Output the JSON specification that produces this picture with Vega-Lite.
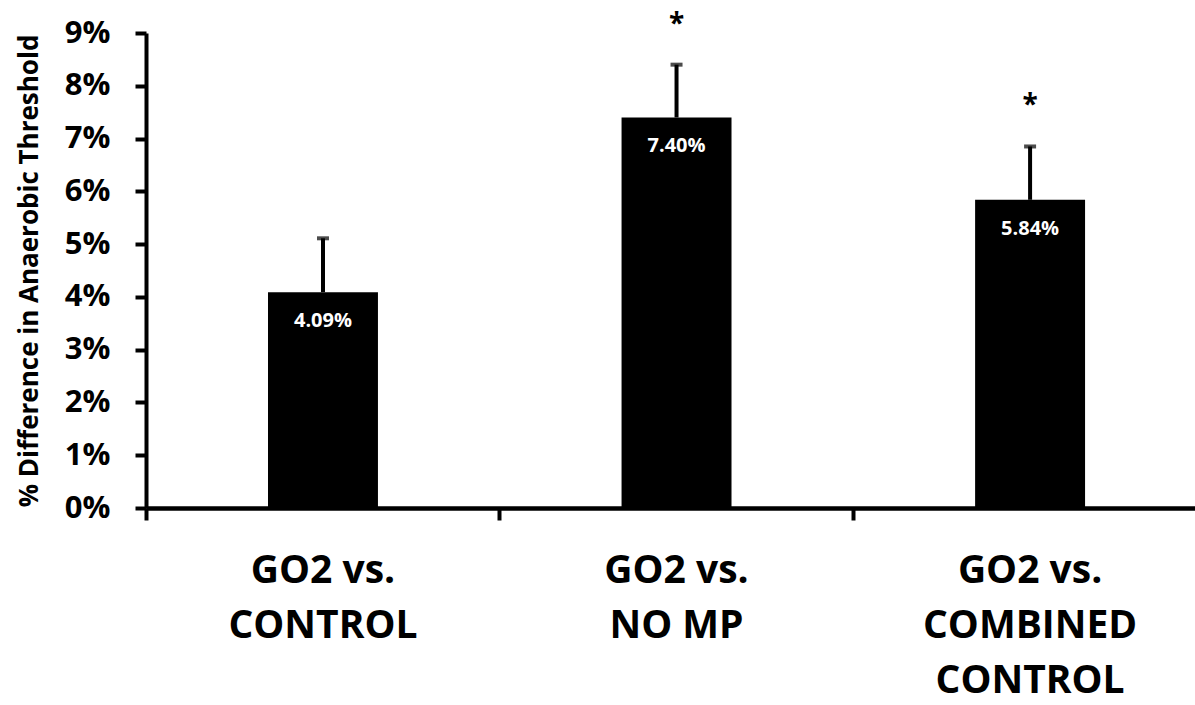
{
  "$schema": "https://vega.github.io/schema/vega-lite/v6.json",
  "width": 1049,
  "height": 475,
  "autosize": {"type": "none"},
  "padding": {"left": 146, "top": 33, "right": 0, "bottom": 197},
  "background": "white",
  "config": {"view": {"stroke": null}, "font": "Open Sans"},
  "data": {
    "values": [
      {"group": "GO2 vs.|CONTROL", "value": 0.0409, "hi": 0.0511, "sig": ""},
      {"group": "GO2 vs.|NO MP", "value": 0.074, "hi": 0.084, "sig": "*"},
      {"group": "GO2 vs.|COMBINED|CONTROL", "value": 0.0584, "hi": 0.0685, "sig": "*"}
    ]
  },
  "encoding": {
    "x": {
      "field": "group",
      "type": "nominal",
      "sort": null,
      "scale": {"paddingInner": 0.689, "paddingOuter": 0.328, "align": 0.526},
      "axis": {
        "title": null,
        "labelAngle": 0,
        "labelExpr": "split(datum.label, '|')",
        "labelFont": "Open Sans",
        "labelFontSize": 39,
        "labelFontWeight": "bold",
        "labelColor": "black",
        "labelLineHeight": 55,
        "labelPadding": 31,
        "labelLimit": 0,
        "labelOverlap": false,
        "labelBaseline": "top",
        "domainWidth": 4.5,
        "domainColor": "black",
        "tickSize": 12,
        "tickWidth": 4,
        "tickColor": "black",
        "bandPosition": -1.107
      }
    }
  },
  "layer": [
    {
      "mark": {"type": "bar", "color": "black"},
      "encoding": {
        "y": {
          "field": "value",
          "type": "quantitative",
          "scale": {"domain": [0, 0.09]},
          "axis": {
            "values": [0, 0.01, 0.02, 0.03, 0.04, 0.05, 0.06, 0.07, 0.08, 0.09],
            "format": ".0%",
            "grid": false,
            "domainWidth": 4,
            "domainColor": "black",
            "tickWidth": 4,
            "tickColor": "black",
            "tickSize": 11,
            "labelFont": "Open Sans",
            "labelFontSize": 31,
            "labelFontWeight": "bold",
            "labelColor": "black",
            "labelPadding": 25,
            "title": "% Difference in Anaerobic Threshold",
            "titleFont": "Open Sans",
            "titleFontSize": 26,
            "titleFontWeight": "bold",
            "titleColor": "black",
            "titlePadding": 22
          }
        }
      }
    },
    {
      "mark": {"type": "rule", "strokeWidth": 4, "color": "black"},
      "encoding": {
        "y": {"field": "value", "type": "quantitative"},
        "y2": {"field": "hi"}
      }
    },
    {
      "mark": {"type": "tick", "orient": "horizontal", "size": 12, "thickness": 4, "color": "black"},
      "encoding": {
        "y": {"field": "hi", "type": "quantitative"}
      }
    },
    {
      "mark": {"type": "text", "color": "white", "fontSize": 20, "fontWeight": "bold", "baseline": "middle", "dy": 29, "font": "Open Sans"},
      "encoding": {
        "y": {"field": "value", "type": "quantitative"},
        "text": {"field": "value", "format": ".2%"}
      }
    },
    {
      "mark": {"type": "text", "color": "black", "fontSize": 28, "fontWeight": "bold", "baseline": "alphabetic", "dy": -32, "font": "Open Sans"},
      "encoding": {
        "y": {"field": "hi", "type": "quantitative"},
        "text": {"field": "sig"}
      }
    }
  ]
}
